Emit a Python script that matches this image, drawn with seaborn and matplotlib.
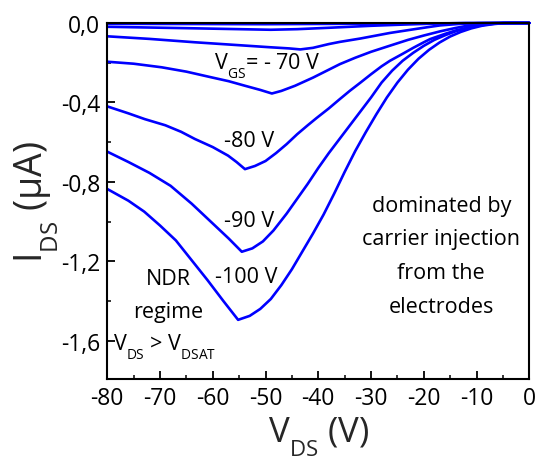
import numpy as np
import pandas as pd
import matplotlib
matplotlib.use("Agg")
import matplotlib.pyplot as plt
from matplotlib.ticker import MultipleLocator
import matplotlib._mathtext as _mt
import seaborn as sns

# ---- data ----
vgs_labels = ["-40 V", "-50 V", "-60 V", "-70 V", "-80 V", "-90 V", "-100 V"]

vds_a = [-80, -50, -20, -5, 0]
ids_a = [-0.004, -0.006, -0.002, 0.0, 0.0]

vds_b = [-80, -65, -49, -44, -38, -30, -24, -18, -12, 0]
ids_b = [-0.019, -0.026, -0.034, -0.031, -0.024, -0.014, -0.008, -0.003, 0.0, 0.0]

vds_c = [-80, -72, -63.4, -56, -49.2, -45.5, -43.4, -41, -38, -35.9, -32, -29, -26.4,
         -22, -19, -16.9, -13, -10, -8, 0]
ids_c = [-0.067, -0.080, -0.097, -0.110, -0.122, -0.128, -0.133, -0.125, -0.106, -0.095,
         -0.078, -0.063, -0.050, -0.032, -0.020, -0.012, -0.004, -0.001, 0.0, 0.0]

vds_d = [-80, -75, -69.7, -65, -60.2, -57, -53.9, -51, -48.8, -47, -44.4, -41, -38, -35.9,
         -33, -30, -26.4, -23, -20, -16.9, -14, -12, -10, -8, -6, 0]
ids_d = [-0.195, -0.205, -0.223, -0.245, -0.274, -0.293, -0.316, -0.337, -0.355, -0.342,
         -0.316, -0.275, -0.235, -0.207, -0.175, -0.145, -0.114, -0.085, -0.063, -0.042,
         -0.025, -0.015, -0.007, -0.002, 0.0, 0.0]

vds_e = [-80, -76, -72.9, -69, -66, -63.4, -60, -57.1, -55.5, -53.9, -52, -50, -48, -46,
         -44, -42, -40.3, -38, -36, -34, -32, -30, -28, -26.4, -24, -22, -20, -18.8, -16,
         -14, -11.9, -10, -8, -6, -5, 0]
ids_e = [-0.420, -0.455, -0.484, -0.515, -0.548, -0.584, -0.625, -0.668, -0.700, -0.736,
         -0.720, -0.695, -0.655, -0.610, -0.560, -0.515, -0.478, -0.430, -0.385, -0.341,
         -0.300, -0.258, -0.218, -0.190, -0.155, -0.125, -0.097, -0.081, -0.055, -0.038,
         -0.025, -0.015, -0.007, -0.002, 0.0, 0.0]

vds_f = [-80, -76, -72, -68, -64, -60, -57, -54.5, -52.5, -50.5, -48.5, -46, -44, -42, -40,
         -38, -36, -34, -32, -30, -28, -26, -24, -22, -20, -18, -16, -14, -12, -10, -8, -6,
         -4, 0]
ids_f = [-0.648, -0.700, -0.755, -0.820, -0.910, -1.010, -1.085, -1.152, -1.135, -1.100,
         -1.045, -0.960, -0.885, -0.810, -0.730, -0.655, -0.585, -0.515, -0.445, -0.375,
         -0.300, -0.240, -0.190, -0.150, -0.115, -0.085, -0.062, -0.042, -0.026, -0.014,
         -0.006, -0.002, 0.0, 0.0]

vds_g = [-80, -76, -73, -70, -67, -64, -61, -58, -55.2, -53, -51, -49, -47, -45, -43, -41,
         -39, -37, -35, -33, -31, -29, -27, -25, -23, -21, -19, -17, -15, -13, -11, -9, -7,
         -5, -3, 0]
ids_g = [-0.836, -0.895, -0.950, -1.020, -1.095, -1.195, -1.295, -1.400, -1.495, -1.475,
         -1.440, -1.390, -1.320, -1.240, -1.150, -1.060, -0.965, -0.860, -0.750, -0.645,
         -0.550, -0.460, -0.375, -0.300, -0.235, -0.180, -0.135, -0.098, -0.068, -0.045,
         -0.027, -0.014, -0.006, -0.001, 0.0, 0.0]

xticks = [-80, -70, -60, -50, -40, -30, -20, -10, 0]
xticklabels = ["-80", "-70", "-60", "-50", "-40", "-30", "-20", "-10", "0"]
yticks = [0.0, -0.4, -0.8, -1.2, -1.6]
yticklabels = ["0,0", "-0,4", "-0,8", "-1,2", "-1,6"]

curves = [(vds_a, ids_a), (vds_b, ids_b), (vds_c, ids_c), (vds_d, ids_d),
          (vds_e, ids_e), (vds_f, ids_f), (vds_g, ids_g)]
frames = []
for lab, (vx, iy) in zip(vgs_labels, curves):
    frames.append(pd.DataFrame({"V_DS": vx, "I_DS": iy, "V_GS": lab}))
df = pd.concat(frames, ignore_index=True)

# ---- style ----
sns.set_style("ticks")
FONT = "Open Sans"
plt.rcParams["font.family"] = [FONT, "DejaVu Sans"]
plt.rcParams["mathtext.fontset"] = "custom"
plt.rcParams["mathtext.rm"] = FONT
plt.rcParams["mathtext.it"] = FONT
plt.rcParams["mathtext.default"] = "regular"
plt.rcParams["axes.unicode_minus"] = False
# smaller, lower subscripts as in the reference
_mt.SHRINK_FACTOR = 0.64
_mt.FontConstantsBase.sub1 = 0.78

fig = plt.figure(figsize=(5.46, 4.6), dpi=100)
ax = fig.add_axes([0.1965, 0.1739, 0.7729, 0.7739])

sns.lineplot(data=df, x="V_DS", y="I_DS", hue="V_GS", hue_order=vgs_labels,
             palette=["#0000ff"] * len(vgs_labels), estimator=None, sort=False,
             legend=False, linewidth=1.9, ax=ax, clip_on=False)

ax.set_xlim(-80, 0)
ax.set_ylim(-1.793, 0.0)
ax.set_xticks(xticks, xticklabels)
ax.set_yticks(yticks, yticklabels)
ax.xaxis.set_minor_locator(MultipleLocator(5))
ax.yaxis.set_minor_locator(MultipleLocator(0.2))
ax.tick_params(axis="both", which="major", direction="in", length=6, width=1.3,
               labelsize=16.5, color="black", labelcolor="black", pad=5)
ax.tick_params(axis="both", which="minor", direction="in", length=3, width=1.3)
ax.tick_params(top=False, right=False, which="both")
for s in ax.spines.values():
    s.set_linewidth(1.5)
    s.set_color("black")
    s.set_visible(True)

ax.set_xlabel("V$_{DS}$ (V)", fontsize=25, labelpad=3)
ax.set_ylabel("I$_{DS}$ (\u03bcA)", fontsize=27, labelpad=0)

tk = dict(fontsize=15.5, color="black")
ax.text(-49.7, -0.232, "V$_{GS}$= - 70 V", ha="center", va="baseline", **tk)
ax.text(-53.1, -0.618, "-80 V", ha="center", va="baseline", **tk)
ax.text(-53.1, -1.021, "-90 V", ha="center", va="baseline", **tk)
ax.text(-53.6, -1.303, "-100 V", ha="center", va="baseline", **tk)
ax.text(-68.5, -1.315, "NDR", ha="center", va="baseline", **tk)
ax.text(-68.5, -1.481, "regime", ha="center", va="baseline", **tk)
ax.text(-78.9, -1.647, "V$_{DS}$ > V$_{DSAT}$", ha="left", va="baseline", **tk)
for txt, yy in zip(["dominated by", "carrier injection", "from the", "electrodes"],
                   [-0.946, -1.113, -1.282, -1.456]):
    ax.text(-16.7, yy, txt, ha="center", va="baseline", **tk)

fig.savefig("out.png", dpi=100)
